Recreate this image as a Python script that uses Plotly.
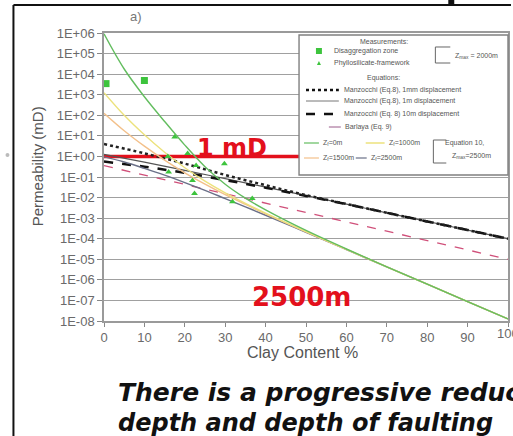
import plotly.graph_objects as go

# ---- data -------------------------------------------------------------
# Equation 10 curves (Zmax = 2500 m), log10 permeability (mD) vs clay content
clay_eq10 = [0, 5, 10, 15, 20, 25, 30, 35, 40, 50, 60, 70, 80, 90, 100]
logk_zf0 = [5.96, 4.25, 2.90, 1.70, 0.55, -0.50, -1.35, -2.03, -2.60, -3.60, -4.50, -5.37, -6.21, -7.06, -7.90]
logk_zf1000 = [3.10, 2.00, 1.05, 0.20, -0.55, -1.20, -1.77, -2.28, -2.76, -3.66, -4.52, -5.37, -6.21, -7.06, -7.90]
logk_zf1500 = [2.10, 1.25, 0.50, -0.18, -0.80, -1.35, -1.86, -2.33, -2.79, -3.67, -4.52, -5.37, -6.21, -7.06, -7.90]
logk_zf2500 = [-0.02, -0.27, -0.58, -0.91, -1.27, -1.65, -2.05, -2.45, -2.86, -3.69, -4.53, -5.37, -6.21, -7.06, -7.90]

# Manzocchi (Eq. 8) for three fault displacements
clay_manz = [0, 10, 20, 30, 40, 50, 60, 70, 80, 90, 100]
logk_manz_1mm = [0.60, 0.15, -0.35, -0.90, -1.40, -1.88, -2.31, -2.74, -3.16, -3.58, -4.00]
logk_manz_1m = [0.10, -0.28, -0.68, -1.08, -1.49, -1.90, -2.32, -2.74, -3.16, -3.58, -4.00]
logk_manz_10m = [-0.25, -0.50, -0.80, -1.15, -1.52, -1.92, -2.32, -2.74, -3.16, -3.58, -4.00]

# Barlaya (Eq. 9)
clay_barlaya = [0, 100]
logk_barlaya = [-0.45, -5.00]

# Measurements
clay_disagg = [0.5, 10.0]
logk_disagg = [3.54, 3.69]
clay_phyllo = [17.5, 20.7, 15.8, 29.8, 22.8, 16.0, 21.9, 22.4, 31.8, 36.7]
logk_phyllo = [0.94, 0.14, 0.00, -0.35, -0.44, -0.76, -1.17, -1.80, -2.20, -2.04]

# 1 mD reference level
clay_ref = [-1, 100]
k_ref = [1.0, 1.0]

y_ticks = [10.0 ** e for e in range(-8, 7)]
y_ticktext = ["1E%+03d" % e for e in range(-8, 7)]
x_ticks = [0, 10, 20, 30, 40, 50, 60, 70, 80, 90, 100]


def to_mD(logs):
    return [10.0 ** v for v in logs]


# ---- figure -----------------------------------------------------------
W, H = 513, 436
L, R, T, B = 104, 3, 33, 115
PW, PH = W - L - R, H - T - B


def px(x):
    return (x - L) / PW


def py(y):
    return (H - B - y) / PH


fig = go.Figure()

fig.add_trace(go.Scatter(x=clay_ref, y=k_ref, mode="lines",
                         line=dict(color="#e3101c", width=3.5)))

fig.add_trace(go.Scatter(x=clay_barlaya, y=to_mD(logk_barlaya), mode="lines",
                         line=dict(color="#d0507a", width=1.3, dash="dash")))
fig.add_trace(go.Scatter(x=clay_manz, y=to_mD(logk_manz_1m), mode="lines",
                         line=dict(color="#555555", width=1.2, shape="spline")))
fig.add_trace(go.Scatter(x=clay_manz, y=to_mD(logk_manz_10m), mode="lines",
                         line=dict(color="#111111", width=2.5, dash="dash", shape="spline")))
fig.add_trace(go.Scatter(x=clay_manz, y=to_mD(logk_manz_1mm), mode="lines",
                         line=dict(color="#222222", width=2.5, dash="dot", shape="spline")))

eq10 = [
    (logk_zf2500, "#6a7088"),
    (logk_zf1500, "#f3c08a"),
    (logk_zf1000, "#ece27c"),
    (logk_zf0, "#63bd5f"),
]
for logs, col in eq10:
    fig.add_trace(go.Scatter(x=clay_eq10, y=to_mD(logs), mode="lines",
                             line=dict(color=col, width=1.4, shape="spline")))

fig.add_trace(go.Scatter(x=clay_disagg, y=to_mD(logk_disagg), mode="markers",
                         marker=dict(symbol="square", size=7, color="#3dc43d")))
fig.add_trace(go.Scatter(x=clay_phyllo, y=to_mD(logk_phyllo), mode="markers",
                         marker=dict(symbol="triangle-up", size=6, color="#3dc43d")))

grey_txt = "#6a6a6a"
fig.update_layout(
    width=W, height=H,
    margin=dict(l=L, r=R, t=T, b=B, pad=0),
    paper_bgcolor="white", plot_bgcolor="white",
    showlegend=False,
    font=dict(family="Liberation Sans, Arial, sans-serif", color=grey_txt),
    xaxis=dict(range=[0, 100], tickvals=x_ticks, ticks="outside", ticklen=4,
               tickcolor="#888", showline=True, linecolor="#9a9a9a", linewidth=1.5,
               mirror=True, showgrid=False, zeroline=False,
               tickfont=dict(size=13, color=grey_txt)),
    yaxis=dict(type="log", range=[-8, 6], tickvals=y_ticks, ticktext=y_ticktext,
               ticks="outside", ticklen=5, tickcolor="#888", showline=True,
               linecolor="#9a9a9a", linewidth=1.5, mirror=True,
               showgrid=True, gridcolor="#a0a0a0", gridwidth=1.4, zeroline=False,
               tickfont=dict(size=13, color=grey_txt)),
)

shapes = []
annos = []


def text(x, y, s, size=7, color="#555", anchor="left", family=None, **kw):
    f = dict(size=size, color=color)
    if family:
        f["family"] = family
    annos.append(dict(xref="paper", yref="paper", x=px(x), y=py(y), text=s,
                      showarrow=False, xanchor=anchor, yanchor="middle", font=f, **kw))


def seg(x0, y0, x1, y1, color, width=1, dash="solid"):
    shapes.append(dict(type="line", xref="paper", yref="paper",
                       x0=px(x0), y0=py(y0), x1=px(x1), y1=py(y1),
                       line=dict(color=color, width=width, dash=dash)))


# axis titles and the right-hand tick label that runs off the page
text(37, 166, "Permeability (mD)", size=15, anchor="center", textangle=-90)
text(303, 352, "Clay Content %", size=16, anchor="center")
text(510, 333, "100", size=13, color=grey_txt, anchor="center")
text(136, 17, "a)", size=13, color="#777", anchor="center")

# slide frame
seg(13, 5, 513, 5, "#111", 2)
seg(13, 5, 13, 436, "#111", 2)
shapes.append(dict(type="rect", xref="paper", yref="paper", x0=px(450), x1=px(456),
                   y0=py(4), y1=py(0), fillcolor="#111", line=dict(width=0)))
shapes.append(dict(type="circle", xref="paper", yref="paper", x0=px(5), x1=px(9),
                   y0=py(157), y1=py(153), fillcolor="#bbbbbb", line=dict(width=0)))

# legend panel
shapes.append(dict(type="rect", xref="paper", yref="paper", x0=px(300), x1=px(510),
                   y0=py(175), y1=py(35), fillcolor="white",
                   line=dict(color="#808080", width=1.4), layer="above"))
text(385, 41, "Measurements:", anchor="center")
shapes.append(dict(type="rect", xref="paper", yref="paper", x0=px(317), x1=px(323),
                   y0=py(54), y1=py(48), fillcolor="#3dc43d", line=dict(width=0), layer="above"))
text(333, 51, "Disaggregation zone")
shapes.append(dict(type="path", xref="paper", yref="paper", layer="above",
                   path="M %f,%f L %f,%f L %f,%f Z" % (px(318), py(65), px(322), py(65), px(320), py(61)),
                   fillcolor="#3dc43d", line=dict(width=0)))
text(333, 63, "Phyllosilicate-framework")
shapes.append(dict(type="path", xref="paper", yref="paper", layer="above",
                   path="M %f,%f L %f,%f L %f,%f L %f,%f" % (px(452), py(47), px(437), py(47),
                                                             px(437), py(63), px(452), py(63)),
                   line=dict(color="#666", width=1)))
text(455, 56, "Z<sub>max</sub> = 2000m")
text(385, 78, "Equations:", anchor="center")

seg(307, 90, 340, 90, "#111", 2.5, "dot")
text(343, 90, "Manzocchi (Eq.8), 1mm displacement")
seg(307, 101, 340, 101, "#777", 1)
text(343, 101, "Manzocchi (Eq.8), 1m displacement")
seg(307, 114, 340, 114, "#111", 2.5, "dash")
text(343, 114, "Manzocchi (Eq. 8) 10m displacement")
seg(330, 127, 342, 127, "#9a5a8a", 1)
text(344, 127, "Barlaya (Eq. 9)")

seg(305, 143, 320, 143, "#63bd5f", 1.2)
text(322, 143, "Z<sub>f</sub>=0m")
seg(367, 143, 386, 143, "#ece27c", 1.5)
text(388, 143, "Z<sub>f</sub>=1000m")
seg(305, 158, 320, 158, "#f3c08a", 1.2)
text(322, 158, "Z<sub>f</sub>=1500m")
seg(357, 158, 368, 158, "#6a7088", 1.2)
text(370, 158, "Z<sub>f</sub>=2500m")
shapes.append(dict(type="path", xref="paper", yref="paper", layer="above",
                   path="M %f,%f L %f,%f L %f,%f L %f,%f" % (px(448), py(140), px(435), py(140),
                                                             px(435), py(163), px(448), py(163)),
                   line=dict(color="#666", width=1)))
text(445, 143, "Equation 10,")
text(452, 156, "Z<sub>max</sub>=2500m")

# callouts on the chart
text(233, 148, "<b>1 mD</b>", size=24, color="#e3101c", anchor="center",
     family="DejaVu Sans, sans-serif")
text(302, 297, "<b>2500m</b>", size=26, color="#e3101c", anchor="center",
     family="DejaVu Sans, sans-serif")

# caption below the chart
text(116, 392, "<b><i>There is a progressive reduction</i></b>", size=25, color="#111",
     family="DejaVu Sans, sans-serif")
text(116, 423, "<b><i>depth and depth of faulting</i></b>", size=24, color="#111",
     family="DejaVu Sans, sans-serif")

fig.update_layout(shapes=shapes, annotations=annos)
fig.write_html("out.html")
